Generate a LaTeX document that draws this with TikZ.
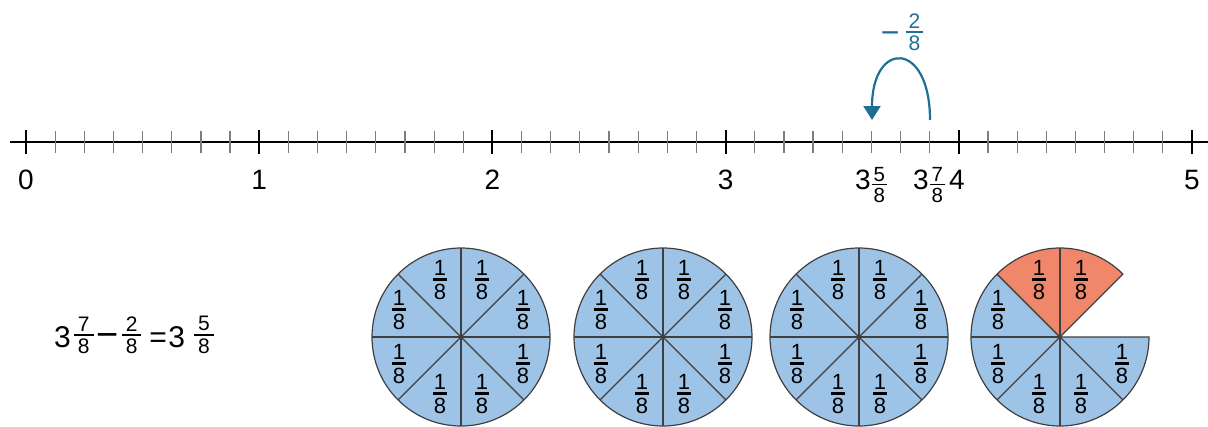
\documentclass[tikz,border=0pt]{standalone}
\usepackage{fontspec}
\setmainfont{Liberation Sans}
\usetikzlibrary{arrows.meta}
\definecolor{pieblue}{RGB}{157,195,230}
\definecolor{pieorange}{RGB}{240,134,106}
\definecolor{piegray}{RGB}{64,64,64}
\definecolor{tickgray}{RGB}{125,125,125}
\definecolor{jumpteal}{RGB}{30,110,150}
% stacked fraction: size, bar, gap, extra bar length, numerator, denominator, height of its middle above the baseline
\newcommand{\vfr}[7]{%
  \begingroup\fontsize{#1}{#1}\selectfont
  \setbox0\hbox{#5}\setbox2\hbox{#6}%
  \dimen0=\wd0 \ifdim\wd2>\dimen0 \dimen0=\wd2 \fi
  \advance\dimen0 by #4%
  \setbox4\vbox{\hbox to\dimen0{\hfil\box0\hfil}\kern#3\hrule height#2\kern#3\hbox to\dimen0{\hfil\box2\hfil}}%
  \dimen2=\ht4 \advance\dimen2 by \dp4
  \raise#7\hbox{\lower0.5\dimen2\box4}%
  \endgroup}
\newcommand{\mixfr}[2]{\kern1pt\vfr{20.5}{1.5pt}{2.6pt}{4pt}{#1}{#2}{4.5pt}}
\newcommand{\eqfr}[2]{\vfr{21}{2pt}{3pt}{8pt}{#1}{#2}{12pt}}
\newcommand{\piefr}[2]{\vfr{22}{2.6pt}{3pt}{2pt}{#1}{#2}{0pt}}
\newcommand{\bigminus}[1]{\hbox{\fontsize{#1}{#1}\selectfont −}}

\begin{document}
\begin{tikzpicture}[
        x=1pt, y=-1pt,
        axis/.style={black, line width=2pt},
        smalltick/.style={tickgray, line width=1.2pt},
        bigtick/.style={black, line width=2pt},
        numlabel/.style={anchor=base, inner sep=0pt, font=\fontsize{28}{30}\selectfont},
        piecut/.style={piegray, line width=1.3pt},
        eighth/.style={inner sep=0pt},
        jump/.style={jumpteal, line width=2.2pt, -{Triangle[length=14pt,width=17pt]}}
    ]
    \useasboundingbox (0,0) rectangle (1208,426);

    % number line
    \coordinate (lstart) at (10,142);
    \coordinate (lend) at (1208,142);
    \draw[axis] (lstart) -- (lend);
    \foreach \i in {0,...,40}
        \draw[smalltick] ({26+29.15*\i},131) -- ({26+29.15*\i},153);
    \foreach \i in {0,...,5}
        \draw[bigtick] ({26+233.2*\i},130) -- ({26+233.2*\i},154);

    \foreach \i in {0,1,2,3,5}
        \node[numlabel] (n\i) at ({26+233.2*\i},189) {\i};
    \node[numlabel] (n4) at (957,189) {4};
    \node[numlabel] (m35) at (871,189) {3\mixfr{5}{8}};
    \node[numlabel] (m37) at (929,189) {3\mixfr{7}{8}};

    % jump back
    \coordinate (from) at (930,120);
    \coordinate (to) at (872,120);
    \draw[jump] (from) .. controls +(0,-80) and +(0,-80) .. (to);
    \node[anchor=base, inner sep=0pt, text=jumpteal, font=\fontsize{26}{26}\selectfont] (jumplabel) at (902,43)
        {\bigminus{32}\kern6pt\vfr{21}{1.5pt}{3pt}{6pt}{2}{8}{11pt}};

    % equation
    \node[anchor=base west, inner sep=0pt, font=\fontsize{30}{30}\selectfont] (eq) at (54,347)
        {3\kern3pt\eqfr{7}{8}\kern3pt\bigminus{38}\kern3pt\eqfr{2}{8}\kern8pt=\kern1.5pt3\kern9pt\eqfr{5}{8}};

    % three whole pies
    \foreach \cx [count=\k] in {461,663,859} {
        \begin{scope}[shift={(\cx,337)}, y=1pt]
            \fill[pieblue] (0,0) circle[radius=89];
            \draw[piegray, line width=1.2pt] (0,0) circle[radius=89];
            \foreach \a in {0,45,90,135}
                \draw[piecut] (\a:89) -- (\a+180:89);
            \fill[piegray] (0,0) circle[radius=2];
            \foreach \dx/\dy [count=\j] in {62/27,21/57,-21/57,-62/27,-62/-27,-21/-57,21/-57,62/-27}
                \node[eighth] (p\k-\j) at (\dx,\dy) {\piefr{1}{8}};
        \end{scope}
    }

    % last pie, two eighths taken away
    \begin{scope}[shift={(1060,337)}, y=1pt]
        \filldraw[fill=pieblue, draw=piegray, line width=1.2pt] (0,0) -- (135:89) arc[start angle=135, end angle=360, radius=89] -- cycle;
        \filldraw[fill=pieorange, draw=piegray, line width=1.2pt] (0,0) -- (45:89) arc[start angle=45, end angle=135, radius=89] -- cycle;
        \foreach \a in {90,180,225,270,315}
            \draw[piecut] (0,0) -- (\a:89);
        \fill[piegray] (0,0) circle[radius=2];
        \foreach \dx/\dy [count=\j] in {21/57,-21/57,-62/27,-62/-27,-21/-57,21/-57,62/-27}
            \node[eighth] (p4-\j) at (\dx,\dy) {\piefr{1}{8}};
    \end{scope}
\end{tikzpicture}
\end{document}
